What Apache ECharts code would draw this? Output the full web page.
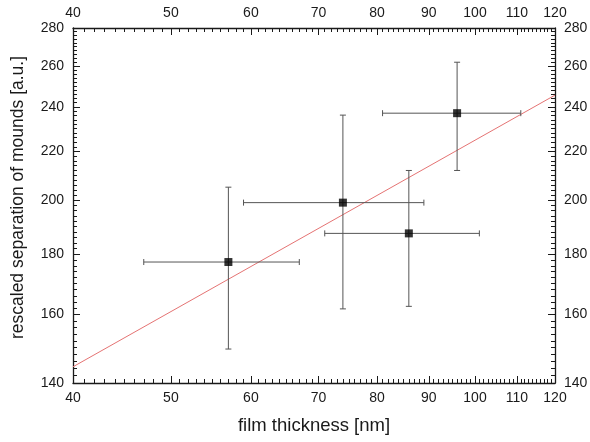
<!DOCTYPE html>
<html>
<head>
<meta charset="utf-8">
<script src="https://cdn.jsdelivr.net/npm/echarts@6/dist/echarts.min.js"></script>
<style>html,body{margin:0;padding:0;background:#fff}#c{width:590px;height:442px}</style>
</head>
<body>
<div id="c"></div>
<script>
// ---- data ----
const thickness = [57, 74, 86, 96];
const thicknessLow = [47, 59, 71, 81];
const thicknessHigh = [67, 89, 101, 111];
const separation = [177.3, 199.1, 187.5, 237.1];
const separationLow = [149.6, 161.8, 162.6, 212.0];
const separationHigh = [205.2, 236.2, 212.0, 261.9];
const fitX = [40, 120];
const fitY = [144.5, 245.6];
const xTicks = [40, 50, 60, 70, 80, 90, 100, 110, 120];
const yTicks = [140, 160, 180, 200, 220, 240, 260, 280];

const xMinor = [];
for (let v = 41; v < 120; v++) if (v % 10) xMinor.push(v);
const yMinor = [];
for (let v = 142; v < 280; v += 2) if (v % 20) yMinor.push(v);

const FONT = 'Liberation Sans, Arial, sans-serif';
const lineStyle = {color: '#1a1a1a', width: 1.3};

function majorAxis(isX, pos, showName) {
  const a = {
    type: 'log', logBase: 10, position: pos,
    min: isX ? 40 : 140, max: isX ? 120 : 280,
    axisLine: {show: true, onZero: false, lineStyle: lineStyle},
    axisTick: {show: true, inside: true, length: 7, lineStyle: {color: '#1a1a1a', width: 1}, customValues: isX ? xTicks : yTicks},
    axisLabel: {show: true, customValues: isX ? xTicks : yTicks, fontFamily: FONT, fontSize: 14, color: '#1a1a1a', margin: isX ? 8 : 9, formatter: v => String(Math.round(v))},
    splitLine: {show: false}, minorTick: {show: false}
  };
  if (showName) {
    a.name = isX ? 'film thickness [nm]' : 'rescaled separation of mounds [a.u.]';
    a.nameLocation = 'middle';
    a.nameGap = isX ? 33 : 46;
    a.nameTextStyle = {fontFamily: FONT, fontSize: isX ? 18.5 : 17.5, color: '#1a1a1a'};
    if (!isX) a.nameTextStyle.padding = [0, 0, 0, 16];
  }
  return a;
}
function minorAxis(isX, pos) {
  return {
    type: 'log', logBase: 10, position: pos,
    min: isX ? 40 : 140, max: isX ? 120 : 280,
    axisLine: {show: false, onZero: false},
    axisTick: {show: true, inside: true, length: 4, lineStyle: {color: '#1a1a1a', width: 1}, customValues: isX ? xMinor : yMinor},
    axisLabel: {show: false},
    splitLine: {show: false}
  };
}

const points = thickness.map((x, i) => [x, separation[i]]);
const errData = thickness.map((x, i) => [x, separation[i], thicknessLow[i], thicknessHigh[i], separationLow[i], separationHigh[i]]);

const chart = echarts.init(document.getElementById('c'), null, {renderer: 'canvas'});
chart.setOption({
  animation: false,
  backgroundColor: '#fff',
  grid: {left: 73, right: 35, top: 28, bottom: 59, containLabel: false, outerBoundsMode: 'none'},
  xAxis: [majorAxis(true, 'bottom', true), majorAxis(true, 'top', false), minorAxis(true, 'bottom'), minorAxis(true, 'top')],
  yAxis: [majorAxis(false, 'left', true), majorAxis(false, 'right', false), minorAxis(false, 'left'), minorAxis(false, 'right')],
  series: [
    {
      type: 'line', data: fitX.map((x, i) => [x, fitY[i]]), showSymbol: false,
      lineStyle: {color: '#e57373', width: 1}, z: 1
    },
    {
      type: 'custom', data: errData, z: 2,
      encode: {x: [0, 2, 3], y: [1, 4, 5]},
      renderItem: function (params, api) {
        const x = api.value(0), y = api.value(1);
        const pL = api.coord([api.value(2), y]);
        const pR = api.coord([api.value(3), y]);
        const pB = api.coord([x, api.value(4)]);
        const pT = api.coord([x, api.value(5)]);
        const c = 3;
        const st = {stroke: '#555', lineWidth: 1};
        const L = (x1, y1, x2, y2) => ({type: 'line', shape: {x1, y1, x2, y2}, style: st});
        return {type: 'group', children: [
          L(pL[0], pL[1], pR[0], pR[1]),
          L(pL[0], pL[1] - c, pL[0], pL[1] + c),
          L(pR[0], pR[1] - c, pR[0], pR[1] + c),
          L(pT[0], pT[1], pB[0], pB[1]),
          L(pT[0] - c, pT[1], pT[0] + c, pT[1]),
          L(pB[0] - c, pB[1], pB[0] + c, pB[1])
        ]};
      }
    },
    {
      type: 'scatter', data: points, symbol: 'rect', symbolSize: 8,
      itemStyle: {color: '#000'}, z: 3
    }
  ]
});
</script>
</body>
</html>
